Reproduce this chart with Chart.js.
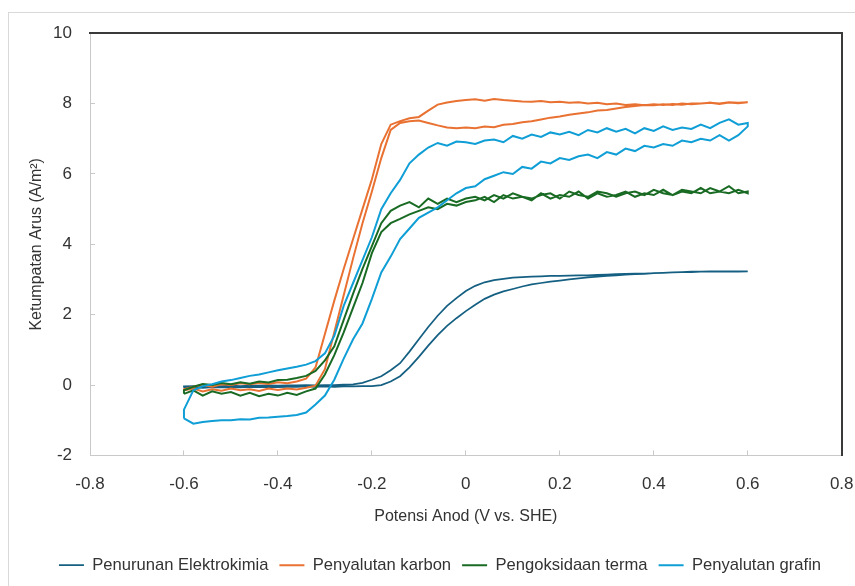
<!DOCTYPE html>
<html>
<head>
<meta charset="utf-8">
<script src="https://cdn.jsdelivr.net/npm/chart.js@4.4.1/dist/chart.umd.min.js"></script>
<style>
  html, body { margin: 0; padding: 0; background: #fff; overflow: hidden; }
  #bingkai { position: absolute; left: 8px; top: 12px; width: 900px; height: 700px; border: 1px solid #d9d9d9; }
  #wrap { position: absolute; left: 0; top: 0; width: 855px; height: 586px; }
</style>
</head>
<body>
<div id="bingkai"></div>
<div id="wrap"><canvas id="carta" width="855" height="586"></canvas></div>
<script>
// Keupayaan (V vs. SHE), sama untuk semua imbasan
const potensi = [
  -0.6, -0.58, -0.56, -0.54, -0.52, -0.5, -0.48, -0.46, -0.44, -0.42,
  -0.4, -0.38, -0.36, -0.34, -0.32, -0.3, -0.28, -0.26, -0.24, -0.22,
  -0.2, -0.18, -0.16, -0.14, -0.12, -0.1, -0.08, -0.06, -0.04, -0.02,
  0, 0.02, 0.04, 0.06, 0.08, 0.1, 0.12, 0.14, 0.16, 0.18,
  0.2, 0.22, 0.24, 0.26, 0.28, 0.3, 0.32, 0.34, 0.36, 0.38,
  0.4, 0.42, 0.44, 0.46, 0.48, 0.5, 0.52, 0.54, 0.56, 0.58, 0.6
];

// Penurunan Elektrokimia
const elektrokimiaNaik = [
  -0.08, -0.07, -0.08, -0.06, -0.07, -0.06, -0.07, -0.05, -0.06, -0.05,
  -0.06, -0.05, -0.05, -0.04, -0.05, -0.04, -0.05, -0.04, -0.04, -0.03,
  -0.03, 0.0, 0.1, 0.25, 0.5, 0.8, 1.12, 1.42, 1.68, 1.9,
  2.1, 2.28, 2.45, 2.57, 2.66, 2.73, 2.8, 2.86, 2.9, 2.94,
  2.97, 3.0, 3.03, 3.06, 3.08, 3.1, 3.12, 3.14, 3.15, 3.16,
  3.18, 3.19, 3.2, 3.21, 3.22, 3.22, 3.23, 3.23, 3.22, 3.23, 3.23
];
const elektrokimiaTurun = [
  -0.04, -0.03, -0.04, -0.03, -0.03, -0.02, -0.03, -0.02, -0.02, -0.01,
  -0.02, -0.01, -0.01, 0.0, -0.01, 0.0, 0.0, 0.01, 0.02, 0.06,
  0.15, 0.25, 0.42, 0.62, 0.95, 1.3, 1.65, 1.97, 2.25, 2.47,
  2.67, 2.82, 2.92, 2.98, 3.02, 3.05, 3.07, 3.08, 3.09, 3.1,
  3.1, 3.11, 3.12, 3.12, 3.13, 3.14, 3.15, 3.16, 3.17, 3.17,
  3.18, 3.19, 3.2, 3.21, 3.21, 3.22, 3.22, 3.23, 3.23, 3.22, 3.23
];

// Penyalutan karbon
const karbonNaik = [
  -0.15, -0.1, -0.18, -0.12, -0.16, -0.1, -0.15, -0.12, -0.17, -0.1,
  -0.14, -0.1, -0.13, -0.08, -0.02, 0.45, 1.5, 2.55, 3.6, 4.6,
  5.5, 6.45, 7.25, 7.45, 7.5, 7.52, 7.45, 7.38, 7.32, 7.3,
  7.32, 7.3, 7.35, 7.33, 7.4, 7.42, 7.47, 7.5, 7.55, 7.6,
  7.63, 7.68, 7.72, 7.75, 7.8, 7.82, 7.86, 7.9, 7.93, 7.96,
  7.95, 7.98, 7.96, 8.0, 7.98, 8.0, 8.02, 7.99, 8.03, 8.01, 8.04
];
const karbonTurun = [
  -0.12, -0.05, 0.0, -0.05, 0.02, 0.0, 0.05, 0.02, 0.06, 0.03,
  0.08, 0.05, 0.1, 0.18, 0.5, 1.45, 2.4, 3.3, 4.15, 5.0,
  5.85, 6.85, 7.4, 7.5, 7.58, 7.62, 7.8, 7.97, 8.03, 8.07,
  8.1, 8.12, 8.08, 8.13, 8.1, 8.08, 8.06, 8.05, 8.07, 8.04,
  8.05, 8.02, 8.04, 8.0, 8.02, 7.98, 8.0, 7.96, 7.98, 7.95,
  7.98, 7.96, 7.99, 7.97, 8.0, 8.0, 8.02, 8.0, 8.04, 8.02, 8.04
];

// Pengoksidaan terma
const termaNaik = [
  -0.25, -0.15, -0.3, -0.18, -0.25, -0.2, -0.3, -0.22, -0.32, -0.25,
  -0.3, -0.22, -0.28, -0.18, -0.1, 0.3, 0.85, 1.5, 2.2, 2.9,
  3.75, 4.35, 4.6, 4.72, 4.85, 4.95, 5.05, 5.0, 5.15, 5.1,
  5.2, 5.25, 5.35, 5.2, 5.4, 5.3, 5.35, 5.25, 5.45, 5.3,
  5.4, 5.35, 5.5, 5.3, 5.45, 5.35, 5.4, 5.5, 5.35, 5.45,
  5.4, 5.55, 5.4, 5.5, 5.45, 5.6, 5.45, 5.5, 5.65, 5.45, 5.5
];
const termaTurun = [
  -0.15, -0.05, 0.03, 0.0, 0.06, 0.02, 0.08, 0.04, 0.1, 0.07,
  0.14, 0.15, 0.2, 0.26, 0.4, 0.7, 1.1, 1.85, 2.6, 3.3,
  3.95, 4.6, 4.95, 5.1, 5.2, 5.05, 5.3, 5.15, 5.3, 5.2,
  5.3, 5.35, 5.25, 5.4, 5.3, 5.45, 5.35, 5.3, 5.4, 5.45,
  5.3, 5.5, 5.4, 5.35, 5.5, 5.45, 5.35, 5.45, 5.5, 5.4,
  5.55, 5.45, 5.4, 5.55, 5.5, 5.45, 5.6, 5.5, 5.45, 5.55, 5.45
];

// Penyalutan grafin
const grafinNaik = [
  -0.95, -1.1, -1.05, -1.02, -1.0, -1.0, -0.97, -0.98, -0.93, -0.92,
  -0.9, -0.88, -0.85, -0.78, -0.55, -0.3, 0.15, 0.75, 1.3, 1.75,
  2.45, 3.2, 3.65, 4.15, 4.45, 4.75, 4.9, 5.05, 5.25, 5.45,
  5.6, 5.65, 5.85, 5.95, 6.05, 6.0, 6.2, 6.15, 6.35, 6.3,
  6.45, 6.4, 6.5, 6.55, 6.45, 6.62, 6.55, 6.72, 6.65, 6.8,
  6.75, 6.85, 6.8, 6.95, 6.9, 7.0, 6.95, 7.1, 6.95, 7.1, 7.35
];
const grafinTurun = [
  -0.7, -0.15, -0.03, 0.02, 0.1, 0.14, 0.2, 0.26, 0.3, 0.36,
  0.42, 0.47, 0.52, 0.58, 0.68, 0.9, 1.4, 2.25, 2.9, 3.55,
  4.2, 5.0, 5.45, 5.83, 6.3, 6.55, 6.75, 6.88, 6.8, 6.92,
  6.9, 6.85, 6.95, 6.98, 6.9, 7.08, 7.0, 7.12, 7.05, 7.18,
  7.12, 7.2, 7.1, 7.25, 7.18, 7.3, 7.2, 7.28, 7.15, 7.3,
  7.22, 7.35, 7.25, 7.32, 7.28, 7.4, 7.3, 7.45, 7.55, 7.4, 7.45
];

// imbasan ke hadapan lalu balik, jadi satu gelung tertutup
function gelung(naik, turun) {
    const pts = potensi.map((x, i) => ({ x: x, y: naik[i] }));
    for (let i = potensi.length - 1; i >= 0; i--) {
        pts.push({ x: potensi[i], y: turun[i] });
    }
    pts.push({ x: potensi[0], y: naik[0] });
    return pts;
}

const teks = '#333333';
const paksi = '#c9c9c9';
const bingkai = '#3a3a3a';
const fon = 'Liberation Sans, Arial, sans-serif';

function siri(label, warna, naik, turun, urutan, tebal) {
    return {
        label: label,
        data: gelung(naik, turun),
        borderColor: warna,
        backgroundColor: warna,
        borderWidth: tebal,
        showLine: true,
        pointRadius: 0,
        tension: 0,
        order: urutan
    };
}

new Chart(document.getElementById('carta'), {
    type: 'scatter',
    data: {
        datasets: [
            siri('Penurunan Elektrokimia', '#156082', elektrokimiaNaik, elektrokimiaTurun, 4, 1.75),
            siri('Penyalutan karbon', '#E97132', karbonNaik, karbonTurun, 3, 2),
            siri('Pengoksidaan terma', '#196B24', termaNaik, termaTurun, 2, 2),
            siri('Penyalutan grafin', '#0F9ED5', grafinNaik, grafinTurun, 1, 2)
        ]
    },
    options: {
        responsive: false,
        animation: false,
        devicePixelRatio: 1,
        layout: { padding: { left: 25, right: 0, top: 33, bottom: 2.5 } },
        plugins: {
            tooltip: { enabled: false },
            legend: {
                position: 'bottom',
                labels: {
                    usePointStyle: true,
                    pointStyle: 'line',
                    pointStyleWidth: 25,
                    padding: 11,
                    color: teks,
                    font: { family: fon, size: 16.6 },
                    sort: (a, b) => a.datasetIndex - b.datasetIndex
                }
            }
        },
        scales: {
            x: {
                type: 'linear',
                position: 'bottom',
                min: -0.8,
                max: 0.8,
                afterFit: (s) => { s.height = 90.5; },
                ticks: {
                    stepSize: 0.2,
                    padding: 0,
                    color: teks,
                    // label diturunkan guna tinggi baris, supaya tiada padding kanan tambahan
                    font: { family: fon, size: 17, lineHeight: '68px' },
                    callback: (v) => Number(v.toFixed(1)).toString()
                },
                grid: { drawOnChartArea: false, drawTicks: true, tickLength: -5, color: paksi },
                border: { color: paksi, width: 1 },
                title: {
                    display: true,
                    text: 'Potensi Anod (V vs. SHE)',
                    color: teks,
                    font: { family: fon, size: 16 },
                    padding: { top: 0, bottom: 20 }
                }
            },
            y: {
                type: 'linear',
                position: 'left',
                min: -2,
                max: 10,
                afterFit: (s) => { s.width = 65; },
                ticks: {
                    stepSize: 2,
                    padding: 23,
                    color: teks,
                    font: { family: fon, size: 17 }
                },
                grid: { drawOnChartArea: false, drawTicks: true, tickLength: -5, color: paksi },
                border: { color: paksi, width: 1 },
                title: {
                    display: true,
                    text: 'Ketumpatan Arus (A/m²)',
                    color: teks,
                    font: { family: fon, size: 16 },
                    padding: { top: 2.4, bottom: 0 }
                }
            },
            x2: {
                type: 'linear',
                position: 'top',
                min: -0.8,
                max: 0.8,
                afterFit: (s) => { s.height = 0; },
                ticks: { display: false, padding: 0 },
                grid: { display: false, drawTicks: false },
                border: { display: true, color: bingkai, width: 2 }
            },
            y2: {
                type: 'linear',
                position: 'right',
                min: -2,
                max: 10,
                afterFit: (s) => { s.width = 13.3; },
                ticks: { display: false, padding: 0 },
                grid: { display: false, drawTicks: false },
                border: { display: true, color: bingkai, width: 2 }
            }
        }
    }
});
</script>
</body>
</html>
